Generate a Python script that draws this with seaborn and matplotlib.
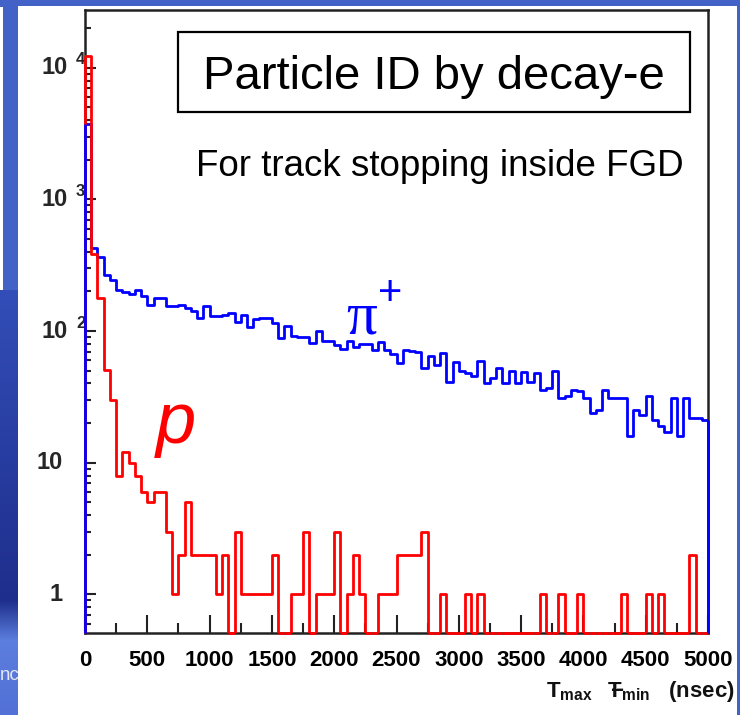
import numpy as np
import matplotlib
matplotlib.use("Agg")
import matplotlib.pyplot as plt
import seaborn as sns
from matplotlib.patches import Rectangle
from matplotlib.transforms import blended_transform_factory
from matplotlib.ticker import FixedLocator, MultipleLocator, LogLocator, NullFormatter

# ---- data: 100 bins of 50 ns between 0 and 5000 ns ----
bin_width = 50
time_edges = np.arange(0, 5000 + bin_width, bin_width)

pion_counts = [
    3750, 430, 366, 265, 243, 207, 197, 192, 204, 184,
    159, 178, 178, 154, 154, 159, 150, 141, 126, 156,
    130, 130, 133, 137, 117, 133, 107, 124, 126, 126,
    115, 89, 109, 92, 91, 91, 81, 100, 84, 84,
    78, 73, 84, 76, 80, 80, 72, 82, 72, 67,
    57, 72, 71, 69, 52, 65, 55, 68, 41, 58,
    50, 48, 46, 59, 40, 44, 52, 40, 50, 40,
    49, 41, 48, 36, 37, 50, 31, 32, 36, 35,
    31, 24, 25, 36, 31, 31, 31, 16, 25, 23,
    32, 21, 19, 17, 31, 16, 31, 22, 22, 21,
]

proton_counts = [
    12250, 382, 180, 51, 30, 8, 12, 10, 8, 6,
    5, 6, 6, 3, 1, 2, 5, 2, 2, 2,
    2, 1, 2, 0, 3, 1, 1, 1, 1, 1,
    2, 0, 0, 1, 1, 3, 0, 1, 1, 1,
    3, 0, 1, 2, 1, 0, 0, 1, 1, 1,
    2, 2, 2, 2, 3, 0, 0, 1, 0, 0,
    0, 1, 0, 1, 0, 0, 0, 0, 0, 0,
    0, 0, 0, 1, 0, 0, 1, 0, 0, 1,
    0, 0, 0, 0, 0, 0, 1, 0, 0, 0,
    1, 0, 1, 0, 0, 0, 0, 2, 0, 0,
]

x_ticks = list(range(0, 5001, 500))
x_tick_labels = [str(v) for v in x_ticks]
y_ticks = [1, 10, 100, 1000, 10000]
y_tick_bases = ["1", "10", "10", "10", "10"]
y_tick_exponents = ["", "", "2", "3", "4"]

bin_centers = time_edges[:-1] + bin_width / 2

# ---- styling ----
sns.set_theme(style="ticks")
plt.rcParams["font.family"] = ["Liberation Sans", "DejaVu Sans"]
plt.rcParams["mathtext.fontset"] = "custom"
plt.rcParams["mathtext.rm"] = "Liberation Sans"
plt.rcParams["mathtext.bf"] = "Liberation Sans:bold"
plt.rcParams["mathtext.it"] = "Liberation Sans:italic"

W, H = 740, 715
fig = plt.figure(figsize=(W / 100, H / 100), dpi=100)
fig.patch.set_facecolor("#4262c8")


def px_rect(x0, y0, x1, y1, color, z=0):
    """Rectangle given in pixel coordinates measured from the top-left."""
    fig.add_artist(Rectangle((x0 / W, 1 - y1 / H), (x1 - x0) / W, (y1 - y0) / H,
                             transform=fig.transFigure, facecolor=color,
                             edgecolor="none", zorder=z))


# slide backdrop on the left edge
SW = 18
strip = fig.add_axes([0, 0, SW / W, 1], zorder=-2)
grad = np.zeros((H, 1, 3))
top = np.array([0x42, 0x62, 0xc8]) / 255
mid = np.array([0x33, 0x4e, 0xb8]) / 255
dark = np.array([0x1e, 0x2e, 0x8c]) / 255
light = np.array([0x5c, 0x7e, 0xde]) / 255
low = np.array([0x52, 0x70, 0xd6]) / 255
for r in range(H):
    if r < 290:
        c = top
    elif r < 600:
        t = (r - 290) / 310
        c = mid * (1 - t) + dark * t
    elif r < 640:
        t = (r - 600) / 40
        c = dark * (1 - t) + light * t
    else:
        t = (r - 640) / 75
        c = light * (1 - t) + low * t
    grad[r, 0] = c
strip.imshow(grad, aspect="auto", extent=(0, 1, 0, 1), origin="upper")
strip.set_xlim(0, 1)
strip.set_ylim(0, 1)
strip.axis("off")
strip.add_patch(Rectangle((0, 1 - 290 / H), 3 / SW, (290 - 7) / H,
                          facecolor="white", edgecolor="none"))
strip.text(0.0, 1 - 676 / H, "nc", color="#e4e8f4", fontsize=13.5,
           va="center", ha="left")

# white canvas behind the histogram
px_rect(SW, 6, 737, H, "white", z=-1)

# ---- histogram axes ----
ax = fig.add_axes([85 / W, (H - 633) / H, 623 / W, 623 / H])
ax.set_facecolor("white")

sns.histplot(x=bin_centers, weights=pion_counts, bins=list(time_edges),
             element="step", fill=False, color="#0000ff", linewidth=2, ax=ax)
sns.histplot(x=bin_centers, weights=proton_counts, bins=list(time_edges),
             element="step", fill=False, color="#ff0000", linewidth=2, ax=ax)
for ln in ax.lines:
    ln.set_zorder(3)

ax.set_yscale("log")
ymin, ymax = 0.509, 2.75e4
ax.set_xlim(time_edges[0], time_edges[-1])
ax.set_ylim(ymin, ymax)

# empty proton bins sit on the floor of the frame
proton_arr = np.asarray(proton_counts)
empty = proton_arr == 0
ax.hlines(np.full(empty.sum(), ymin), time_edges[:-1][empty], time_edges[1:][empty],
          color="#ff0000", lw=2, zorder=3.2, clip_on=False)

# closing verticals at both ends of each histogram
for counts, col, z in ((proton_counts, "#ff0000", 3.5), (pion_counts, "#0000ff", 3.6)):
    if counts[0] > 0:
        ax.vlines(time_edges[0], ymin, counts[0], color=col, lw=2, zorder=z, clip_on=False)
    if counts[-1] > 0:
        ax.vlines(time_edges[-1], ymin, counts[-1], color=col, lw=2, zorder=z, clip_on=False)

ax.set_xlabel("")
ax.set_ylabel("")

for sp in ax.spines.values():
    sp.set_visible(True)
    sp.set_linewidth(1.8)
    sp.set_color("#222222")

ax.xaxis.set_major_locator(FixedLocator(x_ticks))
ax.xaxis.set_minor_locator(MultipleLocator(250))
ax.set_xticklabels(x_tick_labels, fontsize=16, fontweight="bold")
ax.yaxis.set_major_locator(FixedLocator(y_ticks))
ax.yaxis.set_minor_locator(LogLocator(base=10, subs=np.arange(2, 10)))
ax.yaxis.set_minor_formatter(NullFormatter())
ax.set_yticklabels([])

ax.tick_params(axis="both", which="both", direction="in", top=False, right=False,
               color="#222222", width=1.5, labelcolor="black")
ax.tick_params(axis="x", which="major", length=13, pad=12)
ax.tick_params(axis="x", which="minor", length=7)
ax.tick_params(axis="y", which="major", length=8)
ax.tick_params(axis="y", which="minor", length=4.5)

# decade labels in the "10 ^n" style
ylab = blended_transform_factory(fig.transFigure, ax.transData)
for val, base, expo in zip(y_ticks, y_tick_bases, y_tick_exponents):
    if expo:
        ax.text(68 / W, val, base, transform=ylab, ha="right", va="center",
                fontsize=17, fontweight="bold", clip_on=False)
        ax.text(76 / W, val * 10 ** (8 / 131.5), expo, transform=ylab, ha="left",
                va="center", fontsize=12, fontweight="bold", clip_on=False)
    else:
        ax.text(63 / W, val, base, transform=ylab, ha="right", va="center",
                fontsize=17, fontweight="bold", clip_on=False)

# axis title at the lower right
fig.text(735 / W, 1 - 692 / H,
         r"$\mathbf{T_{max}\ \ \ {-}\!\!\!\!\!T_{min}}$   (nsec)",
         ha="right", va="center", fontsize=16, fontweight="bold", color="#111111")

# ---- annotations ----
def ax_xy(px, py):
    return (px - 85) / 623, (633 - py) / 623


bx0, by0 = ax_xy(178, 112)
bx1, by1 = ax_xy(690, 32)
ax.add_patch(Rectangle((bx0, by0), bx1 - bx0, by1 - by0, transform=ax.transAxes,
                       facecolor="white", edgecolor="black", lw=1.6, zorder=4))
tx, ty = ax_xy(434, 89)
ax.text(tx, ty, "Particle ID by decay-e", transform=ax.transAxes, ha="center",
        va="baseline", fontsize=34, color="black", zorder=5)

tx, ty = ax_xy(440, 176)
ax.text(tx, ty, "For track stopping inside FGD", transform=ax.transAxes,
        ha="center", va="baseline", fontsize=26.5, color="black", zorder=5)

tx, ty = ax_xy(362, 333)
ax.text(tx, ty, "\u03c0", transform=ax.transAxes, ha="center", va="baseline",
        fontsize=44, color="#0000ff", family=["Liberation Serif", "DejaVu Serif"], zorder=5)
tx, ty = ax_xy(390, 305)
ax.text(tx, ty, "+", transform=ax.transAxes, ha="center", va="baseline",
        fontsize=30, color="#0000ff", zorder=5)

tx, ty = ax_xy(176, 443)
ax.text(tx, ty, "p", transform=ax.transAxes, ha="center", va="baseline",
        fontsize=52, style="italic", color="#ff0000", zorder=5)

fig.savefig("out.png", dpi=100, facecolor=fig.get_facecolor())
